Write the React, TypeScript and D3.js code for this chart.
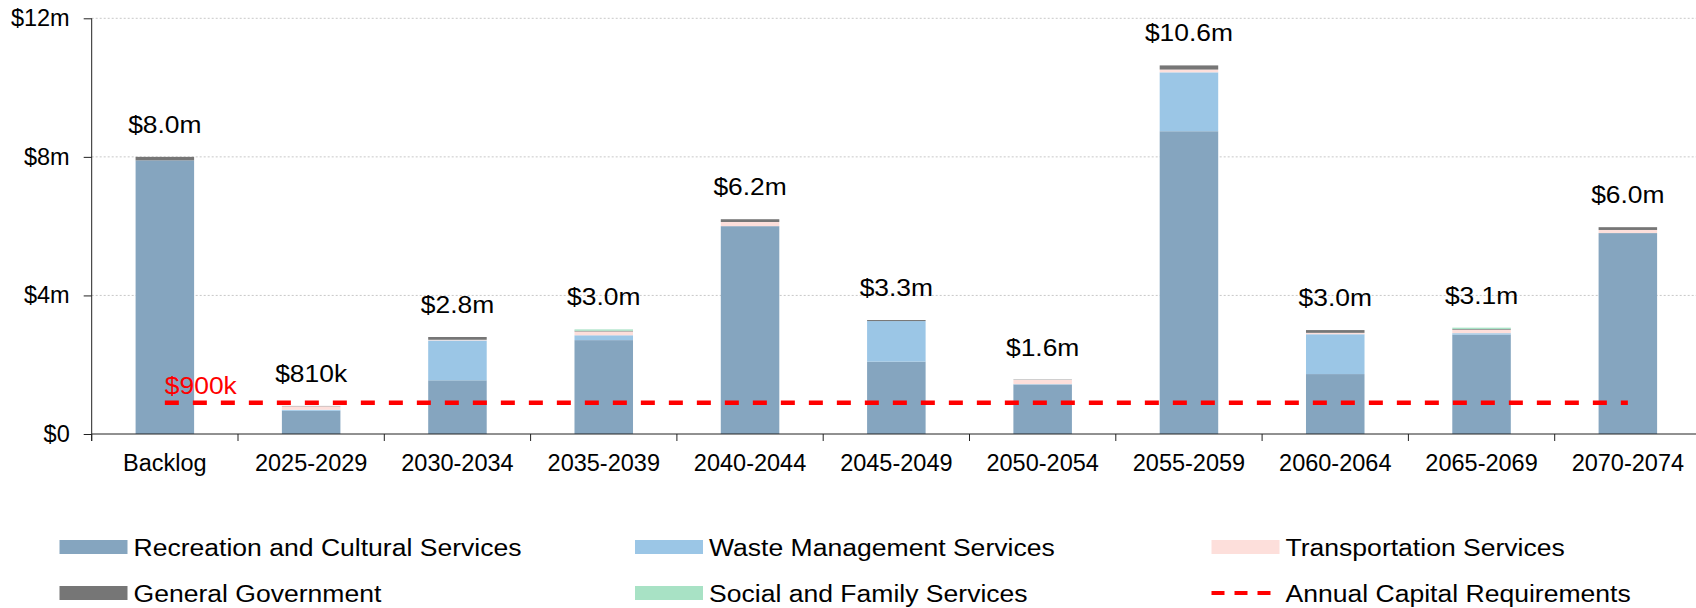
import React, { useEffect, useRef } from "react";
import * as d3 from "d3";

const categories = [
  "Backlog",
  "2025-2029",
  "2030-2034",
  "2035-2039",
  "2040-2044",
  "2045-2049",
  "2050-2054",
  "2055-2059",
  "2060-2064",
  "2065-2069",
  "2070-2074",
];

// values in $m
const recreation = [7.9, 0.67, 1.55, 2.71, 6.0, 2.09, 1.43, 8.74, 1.73, 2.87, 5.8];
const waste = [0, 0.03, 1.15, 0.14, 0, 1.17, 0.01, 1.7, 1.15, 0.04, 0];
const transportation = [0, 0.1, 0.02, 0.11, 0.12, 0, 0.12, 0.08, 0.04, 0.1, 0.09];
const generalGov = [0.1, 0.01, 0.08, 0.02, 0.08, 0.03, 0.01, 0.12, 0.08, 0.02, 0.08];
const social = [0, 0, 0, 0.04, 0, 0, 0, 0, 0, 0.04, 0];

const annualRequirement = 0.9;
const yTicks = [0, 4, 8, 12];

const seriesNames = [
  "Recreation and Cultural Services",
  "Waste Management Services",
  "Transportation Services",
  "General Government",
  "Social and Family Services",
];
const seriesColors = ["#85a5bf", "#9bc6e6", "#fddfdb", "#767676", "#a8e2c5"];
const lineName = "Annual Capital Requirements";

const W = 1696;
const H = 608;
const FONT = "'Liberation Sans', Arial, sans-serif";

const fmt = (v: number) =>
  v < 1 ? `$${Math.round(v * 1000)}k` : `$${v.toFixed(1)}m`;

const App = () => {
  const ref = useRef<HTMLDivElement>(null);

  useEffect(() => {
    drawChart();
  }, []);

  const drawChart = () => {
    d3.select(ref.current).selectAll("svg").remove();
    const svg = d3
      .select(ref.current)
      .append("svg")
      .attr("width", W)
      .attr("height", H)
      .style("position", "absolute")
      .style("left", 0)
      .style("top", 0)
      .style("font-family", FONT);

    const left = 91.7;
    const right = 1701;
    const bottom = 434;
    const top = 18.3;

    const x = d3
      .scaleBand()
      .domain(categories)
      .range([left, right])
      .paddingInner(0.6)
      .paddingOuter(0.3);
    const y = d3.scaleLinear().domain([0, 12]).range([bottom, top]);

    const rows = categories.map((c, i) => ({
      cat: c,
      s0: recreation[i],
      s1: waste[i],
      s2: transportation[i],
      s3: generalGov[i],
      s4: social[i],
    }));
    const keys = ["s0", "s1", "s2", "s3", "s4"];
    const stacked = d3.stack().keys(keys)(rows as any);

    // gridlines
    svg
      .append("g")
      .selectAll("line")
      .data(yTicks.filter((d) => d > 0))
      .enter()
      .append("line")
      .attr("x1", left)
      .attr("x2", W)
      .attr("y1", (d) => y(d))
      .attr("y2", (d) => y(d))
      .attr("stroke", "#c8c8c8")
      .attr("stroke-width", 1)
      .attr("stroke-dasharray", "2 2");

    // stacked bars
    svg
      .append("g")
      .selectAll("g")
      .data(stacked)
      .enter()
      .append("g")
      .attr("fill", (_, i) => seriesColors[i])
      .selectAll("rect")
      .data((d) => d)
      .enter()
      .append("rect")
      .attr("x", (d: any) => x(d.data.cat)!)
      .attr("width", x.bandwidth())
      .attr("y", (d) => y(d[1]))
      .attr("height", (d) => y(d[0]) - y(d[1]));

    // y axis
    const yAxis = svg
      .append("g")
      .attr("transform", `translate(${left},0)`)
      .call(
        d3
          .axisLeft(y)
          .tickValues(yTicks)
          .tickSize(8)
          .tickPadding(14)
          .tickFormat((d) => (d === 0 ? "$0" : `$${d}m`))
      );
    yAxis.select(".domain").remove();
    yAxis.selectAll("line").attr("stroke", "#222");
    yAxis
      .selectAll("text")
      .attr("fill", "#000")
      .style("font-size", "23.5px")
      .style("font-family", FONT);
    svg
      .append("line")
      .attr("x1", left)
      .attr("x2", left)
      .attr("y1", top)
      .attr("y2", bottom + 7)
      .attr("stroke", "#222");

    // x axis
    const xAxis = svg
      .append("g")
      .attr("transform", `translate(0,${bottom})`)
      .call(d3.axisBottom(x).tickSize(0));
    xAxis.select(".domain").remove();
    xAxis
      .selectAll("text")
      .attr("y", 36.7)
      .attr("dy", null)
      .attr("fill", "#000")
      .style("font-size", "23.5px")
      .style("font-family", FONT);
    svg
      .append("line")
      .attr("x1", left)
      .attr("x2", W)
      .attr("y1", bottom)
      .attr("y2", bottom)
      .attr("stroke", "#222");
    svg
      .append("g")
      .selectAll("line")
      .data(d3.range(categories.length + 1))
      .enter()
      .append("line")
      .attr("x1", (i) => left + i * x.step())
      .attr("x2", (i) => left + i * x.step())
      .attr("y1", bottom)
      .attr("y2", bottom + 7)
      .attr("stroke", "#222");

    // annual requirement line
    const first = x(categories[0])! + x.bandwidth() / 2;
    const last = x(categories[categories.length - 1])! + x.bandwidth() / 2;
    svg
      .append("line")
      .attr("x1", first)
      .attr("x2", last)
      .attr("y1", y(annualRequirement))
      .attr("y2", y(annualRequirement))
      .attr("stroke", "#ff0000")
      .attr("stroke-width", 4.5)
      .attr("stroke-dasharray", "14 14");
    svg
      .append("text")
      .attr(
        "transform",
        `translate(${first},${y(annualRequirement) - 8.5}) scale(1.1,1)`
      )
      .attr("fill", "#ff0000")
      .style("font-size", "24px")
      .text(fmt(annualRequirement));

    // total labels
    svg
      .append("g")
      .selectAll("text")
      .data(rows)
      .enter()
      .append("text")
      .attr("text-anchor", "middle")
      .attr("transform", (d, i) => {
        const total = d.s0 + d.s1 + d.s2 + d.s3 + d.s4;
        return `translate(${x(d.cat)! + x.bandwidth() / 2},${
          y(total) - 24
        }) scale(1.1,1)`;
      })
      .attr("fill", "#000")
      .style("font-size", "24px")
      .text((d) => fmt(d.s0 + d.s1 + d.s2 + d.s3 + d.s4));

    // legend
    const legendItems = [...seriesNames, lineName];
    const colX = [59.5, 635, 1211.5];
    const rowY = [540, 586];
    const lg = svg
      .append("g")
      .selectAll("g")
      .data(legendItems)
      .enter()
      .append("g")
      .attr(
        "transform",
        (_, i) => `translate(${colX[i % 3]},${rowY[Math.floor(i / 3)]})`
      );
    lg.each(function (d, i) {
      const g = d3.select(this);
      if (i < seriesNames.length) {
        g.append("rect")
          .attr("width", 68)
          .attr("height", 14)
          .attr("fill", seriesColors[i]);
      } else {
        g.append("line")
          .attr("x1", 0)
          .attr("x2", 68)
          .attr("y1", 7)
          .attr("y2", 7)
          .attr("stroke", "#ff0000")
          .attr("stroke-width", 4)
          .attr("stroke-dasharray", "13 10");
      }
    });
    lg.append("text")
      .attr("transform", "translate(74,15.5) scale(1.13,1)")
      .attr("fill", "#000")
      .style("font-size", "23.5px")
      .text((d) => d);
  };

  return <div ref={ref}></div>;
};

export default App;
